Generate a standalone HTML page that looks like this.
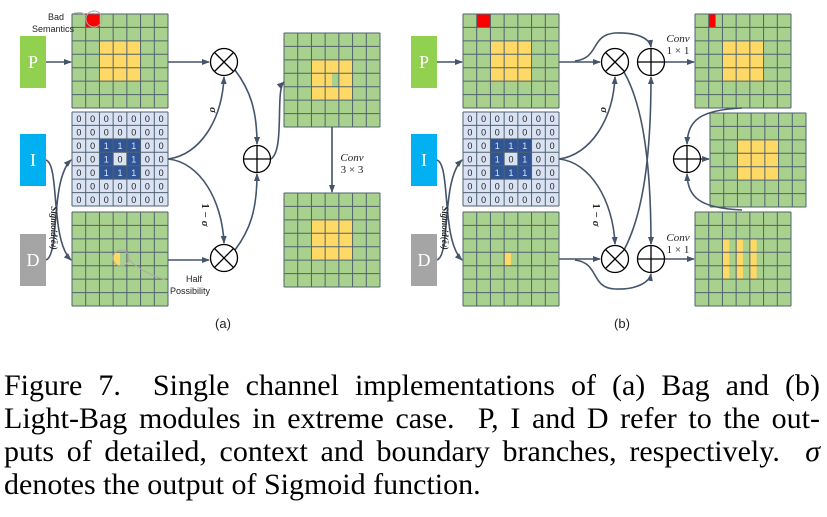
<!DOCTYPE html>
<html><head><meta charset="utf-8"><style>
html,body{margin:0;padding:0;background:#fff;width:827px;height:517px;overflow:hidden;position:relative}
svg{position:absolute;left:0;top:0}
.cap{position:absolute;left:4px;font-family:"Liberation Serif",serif;font-size:30px;color:#000;white-space:nowrap;line-height:31px}
.j{width:816px;text-align:justify;text-align-last:justify}
</style></head><body>
<svg id="s" width="827" height="517" viewBox="0 0 827 517" xmlns="http://www.w3.org/2000/svg">
<defs><marker id="ar" markerWidth="8" markerHeight="8" refX="7" refY="4" orient="auto" markerUnits="userSpaceOnUse"><path d="M0,1 L8,4 L0,7 Z" fill="#44546a"/></marker></defs>
<g id="g"></g>
<g fill="none" stroke="#44546a" stroke-width="1.6">
<path d="M46,62 H71" marker-end="url(#ar)"/>
<path d="M46,160 C60,165 50,240 71,260" marker-end="url(#ar)"/>
<path d="M46,260 C60,255 50,180 71,160" marker-end="url(#ar)"/>
<path d="M168,62 H209" marker-end="url(#ar)"/>
<path d="M168,260 H209" marker-end="url(#ar)"/>
<path d="M168,159 C200,155 222,120 224,77" marker-end="url(#ar)"/>
<path d="M168,159 C200,162 222,200 224,243" marker-end="url(#ar)"/>
<path d="M235,70 C250,90 257,110 257,144" marker-end="url(#ar)"/>
<path d="M235,250 C250,230 257,210 257,174" marker-end="url(#ar)"/>
<path d="M271,159 C285,150 275,90 284,82" marker-end="url(#ar)"/>
<path d="M332,127 V192" marker-end="url(#ar)"/>
<path d="M437,62 H462" marker-end="url(#ar)"/>
<path d="M437,160 C451,165 441,240 462,260" marker-end="url(#ar)"/>
<path d="M437,260 C451,255 441,180 462,160" marker-end="url(#ar)"/>
<path d="M559,62 H600" marker-end="url(#ar)"/>
<path d="M559,259 H600" marker-end="url(#ar)"/>
<path d="M575,61 C600,58 590,35 615,33 C640,32 650,40 651,47" marker-end="url(#ar)"/>
<path d="M575,260 C600,263 590,288 615,289 C640,290 650,280 651,274" marker-end="url(#ar)"/>
<path d="M559,159 C590,155 613,120 615,77" marker-end="url(#ar)"/>
<path d="M559,159 C590,162 613,200 615,244" marker-end="url(#ar)"/>
<path d="M624,72 C640,100 651,150 651,244" marker-end="url(#ar)"/>
<path d="M624,250 C640,220 651,170 651,77" marker-end="url(#ar)"/>
<path d="M665,62 H694" marker-end="url(#ar)"/>
<path d="M665,259 H694" marker-end="url(#ar)"/>
<path d="M701,159 H709" marker-end="url(#ar)"/>
<path d="M742,108 C700,110 688,120 687,144" marker-end="url(#ar)"/>
<path d="M742,210 C700,208 688,198 687,174" marker-end="url(#ar)"/>
</g>
<g fill="#fff" stroke="#000" stroke-width="1.3">
<circle cx="224" cy="62" r="13.5"/><path d="M214.5,52.5 L233.5,71.5 M233.5,52.5 L214.5,71.5"/>
<circle cx="224" cy="258" r="13.5"/><path d="M214.5,248.5 L233.5,267.5 M233.5,248.5 L214.5,267.5"/>
<circle cx="257" cy="159" r="13.5"/><path d="M243.5,159 H270.5 M257,145.5 V172.5"/>
<circle cx="615" cy="62" r="13.5"/><path d="M605.5,52.5 L624.5,71.5 M624.5,52.5 L605.5,71.5"/>
<circle cx="615" cy="259" r="13.5"/><path d="M605.5,249.5 L624.5,268.5 M624.5,249.5 L605.5,268.5"/>
<circle cx="651" cy="62" r="13.5"/><path d="M637.5,62 H664.5 M651,48.5 V75.5"/>
<circle cx="651" cy="259" r="13.5"/><path d="M637.5,259 H664.5 M651,245.5 V272.5"/>
<circle cx="687" cy="159" r="13.5"/><path d="M673.5,159 H700.5 M687,145.5 V172.5"/>
</g>
<g fill="none" stroke="#aaa" stroke-width="1"><circle cx="94" cy="19" r="8"/><path d="M86,16 C80,10 78,14 74,13"/><circle cx="121" cy="258" r="8"/><path d="M129,260 C140,270 150,275 166,280"/></g>
<g font-family="Liberation Sans,sans-serif" font-size="9" fill="#222">
<text x="56" y="20" text-anchor="middle">Bad</text><text x="53" y="32" text-anchor="middle">Semantics</text>
<text x="194" y="282" text-anchor="middle">Half</text><text x="190" y="294" text-anchor="middle">Possibility</text>
</g>
<g font-family="Liberation Sans,sans-serif" font-size="13" fill="#222" text-anchor="middle">
<text x="223" y="328">(a)</text><text x="622" y="328">(b)</text>
</g>
<g font-family="Liberation Serif,serif" font-size="11" fill="#222" text-anchor="middle">
<text x="352" y="161" font-style="italic">Conv</text><text x="352" y="173">3 × 3</text>
<text x="678" y="42" font-style="italic">Conv</text><text x="678" y="54">1 × 1</text>
<text x="678" y="241" font-style="italic">Conv</text><text x="678" y="253">1 × 1</text>
<text transform="translate(210,110) rotate(90)" font-style="italic" font-weight="bold">σ</text>
<text transform="translate(202,215) rotate(90)" font-weight="bold">1 − <tspan font-style="italic">σ</tspan></text>
<text transform="translate(601,110) rotate(90)" font-style="italic" font-weight="bold">σ</text>
<text transform="translate(593,215) rotate(90)" font-weight="bold">1 − <tspan font-style="italic">σ</tspan></text>
<text transform="translate(51,228) rotate(90)" font-size="9" font-style="italic" font-weight="bold">Sigmoid(ē<tspan font-size="6">d</tspan>)</text>
<text transform="translate(442,228) rotate(90)" font-size="9" font-style="italic" font-weight="bold">Sigmoid(ē<tspan font-size="6">d</tspan>)</text>
</g>
</svg>
<div class="cap j" style="top:370px">Figure 7.&nbsp; Single channel implementations of (a) Bag and (b)</div>
<div class="cap j" style="top:403px">Light-Bag modules in extreme case.&nbsp; P, I and D refer to the out-</div>
<div class="cap j" style="top:436px">puts of detailed, context and boundary branches, respectively.&nbsp; <i>σ</i></div>
<div class="cap" style="top:469px">denotes the output of Sigmoid function.</div>
<script>
var g=document.getElementById('g'),NS='http://www.w3.org/2000/svg';
function el(t,a,txt){var e=document.createElementNS(NS,t);for(var k in a)e.setAttribute(k,a[k]);if(txt!=null)e.textContent=txt;g.appendChild(e);return e;}
var W=96,H=94;
function grid(x,y,fill,cellf,w,h){w=w||W;h=h||H;var cw=w/7,ch=h/7;
 el('rect',{x:x,y:y,width:w,height:h,fill:fill});
 if(cellf)cellf(x,y,cw,ch);
 var d='';for(var i=0;i<=7;i++){d+='M'+(x+i*cw)+','+y+'V'+(y+h)+'M'+x+','+(y+i*ch)+'H'+(x+w);}
 el('path',{d:d,stroke:'#50616f','stroke-width':1,fill:'none'});}
function yel(x,y,cw,ch){el('rect',{x:x+2*cw,y:y+2*ch,width:3*cw,height:3*ch,fill:'#ffd966'});}
function red(x,y,cw,ch){el('rect',{x:x+cw,y:y,width:cw,height:ch,fill:'#ff0000'});}
function half(x,y,cw,ch){el('rect',{x:x+3*cw,y:y+3*ch,width:cw/2,height:ch,fill:'#ffd966'});}
function ctx(x,y,cw,ch){el('rect',{x:x+2*cw,y:y+2*ch,width:3*cw,height:3*ch,fill:'#2f5597'});el('rect',{x:x+3*cw,y:y+3*ch,width:cw,height:ch,fill:'#dae3f3'});
 for(var r=0;r<7;r++)for(var c=0;c<7;c++){var v=(r>=2&&r<=4&&c>=2&&c<=4&&!(r==3&&c==3))?'1':'0';
 el('text',{x:x+c*cw+cw/2,y:y+r*ch+ch/2+3.5,'font-family':'Liberation Sans,sans-serif','font-size':'9','text-anchor':'middle',fill:v=='1'?'#dae3f3':'#222'},v);}}
function box(x,y,c,t){el('rect',{x:x,y:y,width:26,height:52,fill:c});el('text',{x:x+13,y:y+32,'font-family':'Liberation Serif,serif','font-size':18,fill:'#fff','text-anchor':'middle'},t);}
[[20,72],[411,463]].forEach(function(p,k){
 box(p[0],36,'#92d050','P');box(p[0],134,'#00b0f0','I');box(p[0],234,'#a5a5a5','D');
 grid(p[1],14,'#a9d18e',function(x,y,cw,ch){yel(x,y,cw,ch);red(x,y,cw,ch);});
 grid(p[1],112,'#dae3f3',ctx);
 grid(p[1],212,'#a9d18e',half);
});
grid(284,33,'#a9d18e',function(x,y,cw,ch){yel(x,y,cw,ch);el('rect',{x:x+3.5*cw,y:y+3*ch,width:cw/2,height:ch,fill:'#a9d18e'});});
grid(284,193,'#a9d18e',yel);
grid(695,14,'#a9d18e',function(x,y,cw,ch){yel(x,y,cw,ch);el('rect',{x:x+cw,y:y,width:cw/2,height:ch,fill:'#ff0000'});});
grid(710,113,'#a9d18e',yel);
grid(695,212,'#a9d18e',function(x,y,cw,ch){for(var c=2;c<5;c++)el('rect',{x:x+c*cw,y:y+2*ch,width:cw/2,height:3*ch,fill:'#ffd966'});});
</script>
</body></html>
